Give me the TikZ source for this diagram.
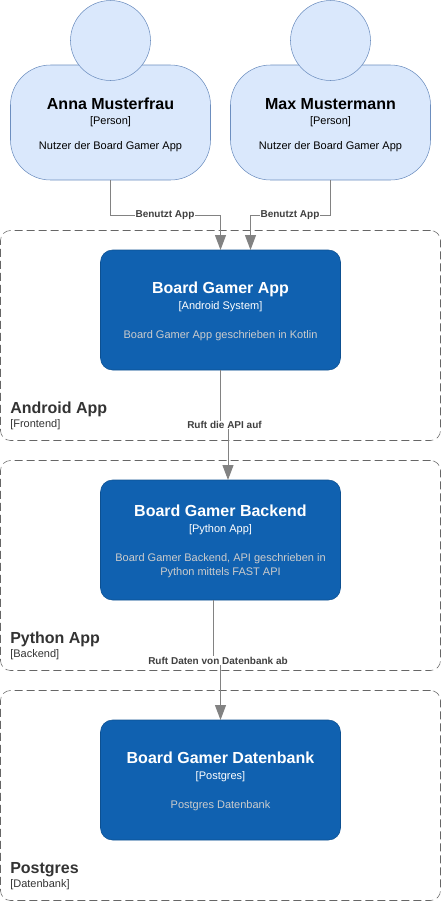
\documentclass[tikz,border=0pt]{standalone}
\usepackage{fontspec}
\setmainfont{Liberation Sans}
\usetikzlibrary{arrows.meta}
\definecolor{personfill}{HTML}{DAE8FC}
\definecolor{personline}{HTML}{6C8EBF}
\definecolor{boxfill}{HTML}{1061B0}
\definecolor{boxline}{HTML}{0D5091}
\definecolor{descgray}{HTML}{CCCCCC}
\definecolor{connline}{HTML}{828282}
\definecolor{frameline}{HTML}{666666}
\definecolor{frametext}{HTML}{333333}
\definecolor{edgetext}{HTML}{404040}
\newcommand{\namefont}{\fontsize{12}{14}\selectfont\bfseries}
\newcommand{\smallfont}{\fontsize{8.25}{10.5}\selectfont}
\tikzset{
  person/.style={rectangle, draw=personline, fill=personfill, rounded corners=30pt, minimum width=150pt, minimum height=86.25pt, inner sep=0pt, outer sep=0pt, align=center, font=\smallfont},
  head/.style={circle, draw=personline, fill=personfill, minimum size=60pt, inner sep=0pt, outer sep=0pt},
  system/.style={rectangle, draw=boxline, fill=boxfill, text=white, rounded corners=9pt, minimum width=180pt, minimum height=90pt, inner sep=0pt, outer sep=0pt, align=center, font=\smallfont},
  boundary/.style={rectangle, draw=frameline, dash pattern=on 6pt off 3pt, rounded corners=7.5pt, minimum width=330pt, minimum height=157.5pt, inner sep=0pt, outer sep=0pt},
  boundarytext/.style={anchor=south west, inner sep=0pt, align=left, text=frametext, font=\smallfont},
  conn/.style={draw=connline, line width=0.75pt, -{Triangle[length=11.25pt, width=8.25pt, fill=connline]}},
  connlabel/.style={fill=white, inner sep=0.5pt, text=edgetext, font=\fontsize{7.5}{9}\selectfont\bfseries}
}
\begin{document}
\begin{tikzpicture}[x=0.75pt, y=-0.75pt]
  \useasboundingbox (0, 0) rectangle (441, 901);
  % Boundaries
  \node (androidframe) [boundary] at (220.5, 335.5) {};
  \node (pythonframe) [boundary] at (220.5, 565.5) {};
  \node (postgresframe) [boundary] at (220.5, 795.5) {};
  \node (androidtext) [boundarytext] at (10, 430) {{\namefont Android App}\\ {[Frontend]}};
  \node (pythontext) [boundarytext] at (10, 660) {{\namefont Python App}\\ {[Backend]}};
  \node (postgrestext) [boundarytext] at (10, 890) {{\namefont Postgres}\\ {[Datenbank]}};
  % Persons
  \node (anna) [person] at (110.5, 122.5) {{\namefont\rule{0pt}{11.7pt}Anna Musterfrau}\\[0.75pt] {[Person]}\\[8.25pt] Nutzer der Board Gamer App};
  \node (annahead) [head] at (110.5, 40.5) {};
  \node (max) [person] at (330.5, 122.5) {{\namefont\rule{0pt}{11.7pt}Max Mustermann}\\[0.75pt] {[Person]}\\[8.25pt] Nutzer der Board Gamer App};
  \node (maxhead) [head] at (330.5, 40.5) {};
  % Systems
  \node (app) [system] at (220.5, 310) {{\namefont\rule{0pt}{10.6pt}Board Gamer App}\\[1.1pt] {[Android System]}\\[11.25pt] \textcolor{descgray}{Board Gamer App geschrieben in Kotlin}};
  \node (backend) [system] at (220.5, 540) {{\namefont\rule{0pt}{10.6pt}Board Gamer Backend}\\[1.1pt] {[Python App]}\\[11.25pt] \textcolor{descgray}{Board Gamer Backend, API geschrieben in}\\ \textcolor{descgray}{Python mittels FAST API}};
  \node (database) [system] at (220.5, 780) {{\namefont\rule{0pt}{10.6pt}Board Gamer Datenbank}\\[1.1pt] {[Postgres]}\\[11.25pt] \textcolor{descgray}{Postgres Datenbank}};
  % Arrow ends
  \coordinate (appright) at (250.5, 250);
  \coordinate (backendin) at (228, 480);
  \coordinate (appout) at (220.5, 370);
  \coordinate (backendout) at (213.5, 600);
  % Arrows
  \draw[conn] (anna.south) |- (165, 215.5) node[connlabel] (annalabel) {Benutzt App} -| (app.north);
  \draw[conn] (max.south) |- (290, 215.5) node[connlabel] (maxlabel) {Benutzt App} -| (appright);
  \draw[conn] (appout) |- (224.5, 425) node[connlabel] (apilabel) {Ruft die API auf} -| (backendin);
  \draw[conn] (backendout) |- (218, 660.5) node[connlabel] (datalabel) {Ruft Daten von Datenbank ab} -| (database.north);
\end{tikzpicture}
\end{document}
